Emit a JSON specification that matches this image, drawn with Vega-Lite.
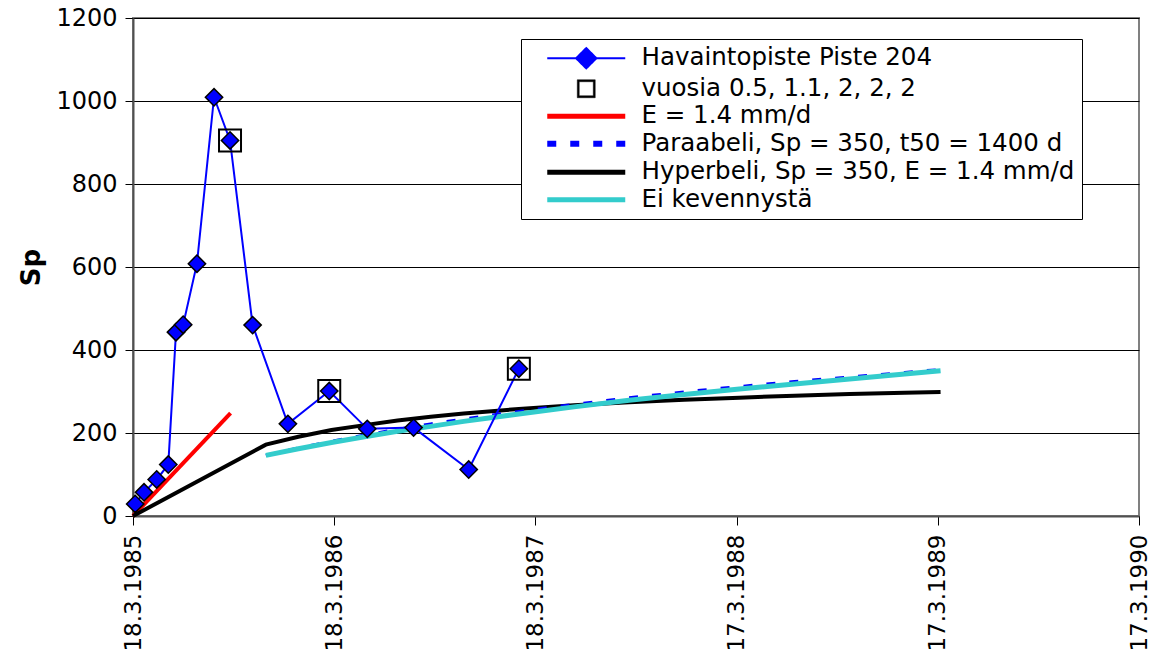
{
  "$schema": "https://vega.github.io/schema/vega-lite/v6.json",
  "width": 1006,
  "height": 498,
  "autosize": {"type": "none"},
  "padding": {"left": 133, "top": 18, "right": 15, "bottom": 144},
  "background": "white",
  "config": {
    "font": "DejaVu Sans",
    "view": {"stroke": "#808080", "strokeWidth": 2},
    "axis": {"labelColor": "#000", "titleColor": "#000", "tickColor": "#000", "domainColor": "#505050", "domainWidth": 2}
  },
  "datasets": {
    "obs": [
      {"date": "1985-03-22", "Sp": 29, "series": "Havaintopiste Piste 204"},
      {"date": "1985-04-07", "Sp": 57, "series": "Havaintopiste Piste 204"},
      {"date": "1985-04-30", "Sp": 88, "series": "Havaintopiste Piste 204"},
      {"date": "1985-05-21", "Sp": 124, "series": "Havaintopiste Piste 204"},
      {"date": "1985-06-04", "Sp": 443, "series": "Havaintopiste Piste 204"},
      {"date": "1985-06-17", "Sp": 461, "series": "Havaintopiste Piste 204"},
      {"date": "1985-07-12", "Sp": 608, "series": "Havaintopiste Piste 204"},
      {"date": "1985-08-12", "Sp": 1009, "series": "Havaintopiste Piste 204"},
      {"date": "1985-09-10", "Sp": 905, "series": "Havaintopiste Piste 204"},
      {"date": "1985-10-21", "Sp": 460, "series": "Havaintopiste Piste 204"},
      {"date": "1985-12-24", "Sp": 222, "series": "Havaintopiste Piste 204"},
      {"date": "1986-03-09", "Sp": 301, "series": "Havaintopiste Piste 204"},
      {"date": "1986-05-17", "Sp": 210, "series": "Havaintopiste Piste 204"},
      {"date": "1986-08-09", "Sp": 213, "series": "Havaintopiste Piste 204"},
      {"date": "1986-11-17", "Sp": 112, "series": "Havaintopiste Piste 204"},
      {"date": "1987-02-16", "Sp": 355, "series": "Havaintopiste Piste 204"}
    ],
    "squares": [
      {"date": "1985-09-10", "Sp": 905, "series": "vuosia 0.5, 1.1, 2, 2, 2"},
      {"date": "1986-03-09", "Sp": 301, "series": "vuosia 0.5, 1.1, 2, 2, 2"},
      {"date": "1987-02-16", "Sp": 355, "series": "vuosia 0.5, 1.1, 2, 2, 2"}
    ],
    "red": [
      {"date": "1985-03-18", "Sp": 0, "series": "E = 1.4 mm/d"},
      {"date": "1985-09-11", "Sp": 248, "series": "E = 1.4 mm/d"}
    ],
    "parab": [
      {"date": "1985-11-14", "Sp": 146, "series": "Paraabeli, Sp = 350, t50 = 1400 d"},
      {"date": "1986-01-12", "Sp": 164, "series": "Paraabeli, Sp = 350, t50 = 1400 d"},
      {"date": "1986-03-13", "Sp": 180, "series": "Paraabeli, Sp = 350, t50 = 1400 d"},
      {"date": "1986-05-12", "Sp": 195, "series": "Paraabeli, Sp = 350, t50 = 1400 d"},
      {"date": "1986-07-11", "Sp": 209, "series": "Paraabeli, Sp = 350, t50 = 1400 d"},
      {"date": "1986-09-09", "Sp": 222, "series": "Paraabeli, Sp = 350, t50 = 1400 d"},
      {"date": "1986-11-08", "Sp": 234, "series": "Paraabeli, Sp = 350, t50 = 1400 d"},
      {"date": "1987-02-16", "Sp": 252, "series": "Paraabeli, Sp = 350, t50 = 1400 d"},
      {"date": "1987-05-27", "Sp": 269, "series": "Paraabeli, Sp = 350, t50 = 1400 d"},
      {"date": "1987-09-04", "Sp": 285, "series": "Paraabeli, Sp = 350, t50 = 1400 d"},
      {"date": "1987-12-13", "Sp": 299, "series": "Paraabeli, Sp = 350, t50 = 1400 d"},
      {"date": "1988-03-22", "Sp": 312, "series": "Paraabeli, Sp = 350, t50 = 1400 d"},
      {"date": "1988-06-30", "Sp": 324, "series": "Paraabeli, Sp = 350, t50 = 1400 d"},
      {"date": "1988-10-08", "Sp": 335, "series": "Paraabeli, Sp = 350, t50 = 1400 d"},
      {"date": "1989-01-16", "Sp": 346, "series": "Paraabeli, Sp = 350, t50 = 1400 d"},
      {"date": "1989-03-22", "Sp": 353, "series": "Paraabeli, Sp = 350, t50 = 1400 d"}
    ],
    "hyper": [
      {"date": "1985-03-18", "Sp": 0, "series": "Hyperbeli, Sp = 350, E = 1.4 mm/d"},
      {"date": "1985-11-14", "Sp": 172, "series": "Hyperbeli, Sp = 350, E = 1.4 mm/d"},
      {"date": "1986-01-12", "Sp": 191, "series": "Hyperbeli, Sp = 350, E = 1.4 mm/d"},
      {"date": "1986-03-13", "Sp": 207, "series": "Hyperbeli, Sp = 350, E = 1.4 mm/d"},
      {"date": "1986-05-12", "Sp": 219, "series": "Hyperbeli, Sp = 350, E = 1.4 mm/d"},
      {"date": "1986-07-11", "Sp": 230, "series": "Hyperbeli, Sp = 350, E = 1.4 mm/d"},
      {"date": "1986-09-09", "Sp": 239, "series": "Hyperbeli, Sp = 350, E = 1.4 mm/d"},
      {"date": "1986-11-08", "Sp": 247, "series": "Hyperbeli, Sp = 350, E = 1.4 mm/d"},
      {"date": "1987-02-16", "Sp": 258, "series": "Hyperbeli, Sp = 350, E = 1.4 mm/d"},
      {"date": "1987-05-27", "Sp": 267, "series": "Hyperbeli, Sp = 350, E = 1.4 mm/d"},
      {"date": "1987-09-04", "Sp": 274, "series": "Hyperbeli, Sp = 350, E = 1.4 mm/d"},
      {"date": "1987-12-13", "Sp": 280, "series": "Hyperbeli, Sp = 350, E = 1.4 mm/d"},
      {"date": "1988-03-22", "Sp": 285, "series": "Hyperbeli, Sp = 350, E = 1.4 mm/d"},
      {"date": "1988-06-30", "Sp": 290, "series": "Hyperbeli, Sp = 350, E = 1.4 mm/d"},
      {"date": "1988-10-08", "Sp": 294, "series": "Hyperbeli, Sp = 350, E = 1.4 mm/d"},
      {"date": "1989-01-16", "Sp": 297, "series": "Hyperbeli, Sp = 350, E = 1.4 mm/d"},
      {"date": "1989-03-22", "Sp": 299, "series": "Hyperbeli, Sp = 350, E = 1.4 mm/d"}
    ],
    "ei": [
      {"date": "1985-11-14", "Sp": 146, "series": "Ei kevennystä"},
      {"date": "1986-01-12", "Sp": 162, "series": "Ei kevennystä"},
      {"date": "1986-03-13", "Sp": 177, "series": "Ei kevennystä"},
      {"date": "1986-05-12", "Sp": 191, "series": "Ei kevennystä"},
      {"date": "1986-07-11", "Sp": 204, "series": "Ei kevennystä"},
      {"date": "1986-09-09", "Sp": 216, "series": "Ei kevennystä"},
      {"date": "1986-11-08", "Sp": 228, "series": "Ei kevennystä"},
      {"date": "1987-02-16", "Sp": 246, "series": "Ei kevennystä"},
      {"date": "1987-05-27", "Sp": 263, "series": "Ei kevennystä"},
      {"date": "1987-09-04", "Sp": 279, "series": "Ei kevennystä"},
      {"date": "1987-12-13", "Sp": 293, "series": "Ei kevennystä"},
      {"date": "1988-03-22", "Sp": 306, "series": "Ei kevennystä"},
      {"date": "1988-06-30", "Sp": 318, "series": "Ei kevennystä"},
      {"date": "1988-10-08", "Sp": 330, "series": "Ei kevennystä"},
      {"date": "1989-01-16", "Sp": 342, "series": "Ei kevennystä"},
      {"date": "1989-03-22", "Sp": 350, "series": "Ei kevennystä"}
    ]
  },
  "encoding": {
    "x": {
      "field": "date", "type": "temporal",
      "scale": {"type": "utc", "domain": [{"year": 1985, "month": 3, "date": 18, "utc": true}, {"year": 1990, "month": 3, "date": 17, "utc": true}]},
      "axis": {
        "title": null,
        "grid": false,
        "values": [
          {"year": 1985, "month": 3, "date": 18, "utc": true},
          {"year": 1986, "month": 3, "date": 18, "utc": true},
          {"year": 1987, "month": 3, "date": 18, "utc": true},
          {"year": 1988, "month": 3, "date": 17, "utc": true},
          {"year": 1989, "month": 3, "date": 17, "utc": true},
          {"year": 1990, "month": 3, "date": 17, "utc": true}
        ],
        "labelExpr": "utcFormat(datum.value, '%-d.%-m.%Y')",
        "labelAngle": -90,
        "labelFontSize": 23,
        "labelPadding": 9,
        "tickSize": 9,
        "labelOverlap": false,
        "labelFlush": false
      }
    },
    "y": {
      "field": "Sp", "type": "quantitative",
      "scale": {"domain": [0, 1200], "nice": false, "zero": true},
      "axis": {
        "title": "Sp",
        "titleFontSize": 26,
        "titleFontWeight": "bold",
        "titlePadding": 11,
        "values": [0, 200, 400, 600, 800, 1000, 1200],
        "format": "d",
        "labelFontSize": 24,
        "labelPadding": 8,
        "tickSize": 8,
        "grid": true,
        "gridColor": "#000000",
        "gridWidth": 1
      }
    },
    "color": {
      "field": "series", "type": "nominal",
      "scale": {
        "domain": ["Havaintopiste Piste 204", "vuosia 0.5, 1.1, 2, 2, 2", "E = 1.4 mm/d", "Paraabeli, Sp = 350, t50 = 1400 d", "Hyperbeli, Sp = 350, E = 1.4 mm/d", "Ei kevennystä"],
        "range": ["#0000ff", "#000000", "#ff0000", "#0000ff", "#000000", "#33cccc"]
      },
      "legend": {
        "title": null,
        "orient": "none",
        "legendX": 388,
        "legendY": 21,
        "padding": 7,
        "strokeColor": "#000000",
        "fillColor": "#ffffff",
        "labelFontSize": 24.5,
        "labelColor": "#000",
        "labelLimit": 700,
        "rowPadding": 2.5,
        "symbolSize": 6084,
        "symbolOffset": 46,
        "labelOffset": 43,
        "symbolType": "stroke",
        "encode": {
          "symbols": {
            "update": {
              "shape": {"signal": "datum.value == 'Havaintopiste Piste 204' ? 'M-1,0H1M0,-0.26L0.26,0L0,0.26L-0.26,0Z' : datum.value == 'vuosia 0.5, 1.1, 2, 2, 2' ? 'M-0.23,-0.23H0.23V0.23H-0.23ZM-0.18,-0.18V0.18H0.18V-0.18Z' : 'stroke'"},
              "fill": {"signal": "datum.value == 'Havaintopiste Piste 204' ? '#0000ff' : datum.value == 'vuosia 0.5, 1.1, 2, 2, 2' ? '#000000' : 'transparent'"},
              "stroke": {"signal": "scale('color', datum.value)"},
              "strokeWidth": {"signal": "datum.value == 'Havaintopiste Piste 204' ? 2 : datum.value == 'vuosia 0.5, 1.1, 2, 2, 2' ? 0.5 : datum.value == 'Paraabeli, Sp = 350, t50 = 1400 d' ? 6 : 5"},
              "strokeDash": {"signal": "datum.value == 'Paraabeli, Sp = 350, t50 = 1400 d' ? [9, 14] : [1, 0]"},
              "opacity": {"value": 1}
            }
          }
        }
      }
    }
  },
  "layer": [
    {"data": {"name": "red"}, "mark": {"type": "line", "strokeWidth": 4}},
    {"data": {"name": "hyper"}, "mark": {"type": "line", "strokeWidth": 4}},
    {"data": {"name": "parab"}, "mark": {"type": "line", "strokeWidth": 3, "strokeDash": [9, 14]}},
    {"data": {"name": "ei"}, "mark": {"type": "line", "strokeWidth": 5}},
    {"data": {"name": "obs"}, "mark": {"type": "line", "strokeWidth": 2}},
    {"data": {"name": "squares"}, "mark": {"type": "point", "shape": "square", "size": 484, "strokeWidth": 2, "filled": false, "opacity": 1}},
    {"data": {"name": "obs"}, "mark": {"type": "point", "shape": "diamond", "size": 300, "filled": true, "stroke": "#000000", "strokeWidth": 1.5, "opacity": 1}}
  ]
}
